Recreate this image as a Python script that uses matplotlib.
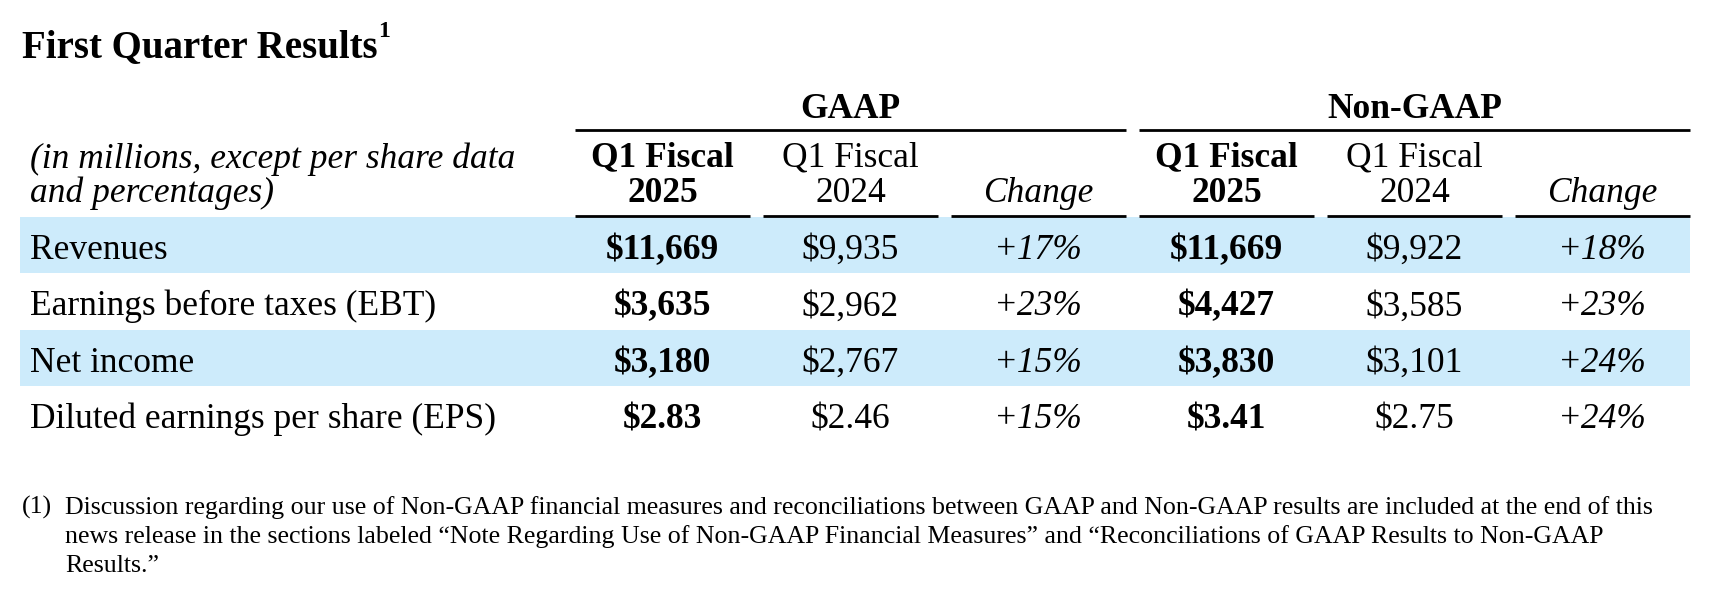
import matplotlib.pyplot as plt
from matplotlib.patches import Rectangle

plt.rcParams['font.family'] = ['Liberation Serif', 'DejaVu Serif']

# table content
title = "First Quarter Results"
groups = ["GAAP", "Non-GAAP"]
col_heads = [("Q1 Fiscal", "2025"), ("Q1 Fiscal", "2024"), ("", "Change")]
row_labels = ["Revenues", "Earnings before taxes (EBT)", "Net income",
              "Diluted earnings per share (EPS)"]
gaap_2025 = ["$11,669", "$3,635", "$3,180", "$2.83"]
gaap_2024 = ["$9,935", "$2,962", "$2,767", "$2.46"]
gaap_chg = ["+17%", "+23%", "+15%", "+15%"]
non_2025 = ["$11,669", "$4,427", "$3,830", "$3.41"]
non_2024 = ["$9,922", "$3,585", "$3,101", "$2.75"]
non_chg = ["+18%", "+23%", "+24%", "+24%"]
footnote = ["Discussion regarding our use of Non-GAAP financial measures and reconciliations between GAAP and Non-GAAP results are included at the end of this",
            "news release in the sections labeled \u201cNote Regarding Use of Non-GAAP Financial Measures\u201d and \u201cReconciliations of GAAP Results to Non-GAAP",
            "Results.\u201d"]

# layout (pixels)
W, H = 1714, 601
band = '#cdebfb'
fs = 25.5
fn_fs = 18.6
col_x0, col_w, col_gap = 575, 175, 13
row_top, row_h = 216.5, 56.5

fig = plt.figure(figsize=(W / 100, H / 100), dpi=100)
ax = fig.add_axes([0, 0, 1, 1])
ax.set_xlim(0, W)
ax.set_ylim(H, 0)
ax.axis('off')

# title with superscript
t = ax.text(22, 56.7, title, fontsize=28, fontweight='bold', va='baseline')
fig.canvas.draw()
bb = t.get_window_extent(fig.canvas.get_renderer())
ax.text(bb.x1 + 1, 36.7, "1", fontsize=17, fontweight='bold', va='baseline')

# row bands
for i in range(len(row_labels)):
    if i % 2 == 0:
        ax.add_patch(Rectangle((20, row_top + i * row_h), 1690 - 20, row_h,
                               color=band, lw=0, zorder=0))

# header
ax.text(30, 168, "(in millions, except per share data", fontsize=fs,
        style='italic', va='baseline')
ax.text(30, 202, "and percentages)", fontsize=fs, style='italic', va='baseline')

centers = [col_x0 + col_w / 2 + k * (col_w + col_gap) for k in range(6)]
for g in range(2):
    left = col_x0 + g * 3 * (col_w + col_gap)
    right = left + 3 * col_w + 2 * col_gap
    ax.plot([left, right], [130, 130], color='black', lw=2, solid_capstyle='butt')
    ax.text((left + right) / 2, 118.3, groups[g], fontsize=fs, fontweight='bold',
            ha='center', va='baseline')
    for k in range(3):
        c = 3 * g + k
        x0 = col_x0 + c * (col_w + col_gap)
        ax.plot([x0, x0 + col_w], [215.5, 215.5], color='black', lw=2,
                solid_capstyle='butt')
        top, bottom = col_heads[k]
        weight = 'bold' if k == 0 else 'normal'
        style = 'italic' if k == 2 else 'normal'
        if top:
            ax.text(centers[c], 166.7, top, fontsize=fs, fontweight=weight,
                    ha='center', va='baseline')
        ax.text(centers[c], 201.7, bottom, fontsize=fs, fontweight=weight,
                style=style, ha='center', va='baseline')

# body
columns = [gaap_2025, gaap_2024, gaap_chg, non_2025, non_2024, non_chg]
for i, label in enumerate(row_labels):
    yb = row_top + i * row_h + 42.3
    ax.text(30, yb, label, fontsize=fs, va='baseline')
    for c, vals in enumerate(columns):
        weight = 'bold' if c % 3 == 0 else 'normal'
        style = 'italic' if c % 3 == 2 else 'normal'
        ax.text(centers[c], yb, vals[i], fontsize=fs, fontweight=weight,
                style=style, ha='center', va='baseline')

# footnote
ax.text(21.7, 514, "(1)", fontsize=fn_fs, va='baseline')
for j, line in enumerate(footnote):
    ax.text(65, 514 + j * 28.8, line, fontsize=fn_fs, va='baseline')

fig.savefig('out.png', dpi=100, facecolor='white')
